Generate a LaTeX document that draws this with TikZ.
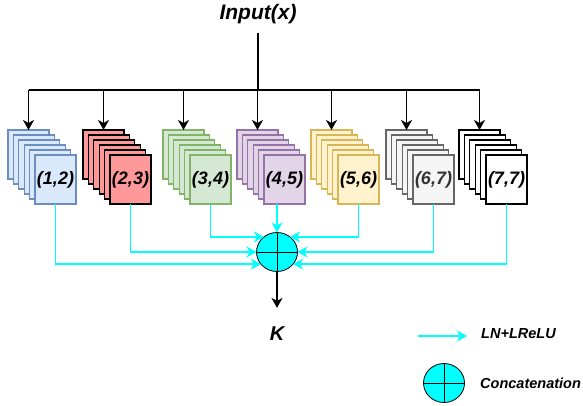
\documentclass[tikz,border=0pt]{standalone}
\usepackage{fontspec}
\setmainfont{Liberation Sans}
\usepackage{tikz}
\usetikzlibrary{positioning,arrows.meta,shapes.geometric}
\definecolor{blueF}{HTML}{DAE8FC}
\definecolor{blueD}{HTML}{6C8EBF}
\definecolor{redF}{HTML}{FF9999}
\definecolor{greenF}{HTML}{D5E8D4}
\definecolor{greenD}{HTML}{82B366}
\definecolor{purpleF}{HTML}{E1D5E7}
\definecolor{purpleD}{HTML}{9673A6}
\definecolor{yellowF}{HTML}{FFF2CC}
\definecolor{yellowD}{HTML}{D6B656}
\definecolor{grayF}{HTML}{F5F5F5}
\definecolor{grayD}{HTML}{666666}
\definecolor{grayT}{HTML}{333333}
\definecolor{catCyan}{HTML}{00FFFF}

\begin{document}
\begin{tikzpicture}[x=1pt, y=-1pt,
    sheet/.style={draw, line width=1.1pt, minimum width=41pt, minimum height=49pt,
                  inner sep=0pt, outer sep=0pt, anchor=north west},
    lbl/.style={font=\bfseries\itshape\fontsize{18}{20}\selectfont},
    feed/.style={line width=1.6pt, -{Stealth[length=10pt,width=11pt,inset=3pt]}},
    link/.style={draw=catCyan, line width=1.8pt,
                 -{Stealth[length=10pt,width=11pt,inset=3pt]}},
    catnode/.style={ellipse, draw, line width=0.8pt, fill=catCyan, minimum width=41pt,
                    minimum height=39pt, inner sep=0pt, outer sep=0pt},
    keytext/.style={anchor=west, inner sep=0pt, font=\bfseries\itshape\fontsize{14.5}{16}\selectfont}
]
    \useasboundingbox (0,0) rectangle (583,406);

    % kernel stacks: back sheet, four middle sheets, front sheet with the size
    \foreach \i/\bx/\fc/\dc/\tc/\txt in {1/8/blueF/blueD/black/{(1,2)},
                                        2/83/redF/black/black/{(2,3)},
                                        3/163/greenF/greenD/black/{(3,4)},
                                        4/237/purpleF/purpleD/black/{(4,5)},
                                        5/311/yellowF/yellowD/black/{(5,6)},
                                        6/386/grayF/grayD/grayT/{(6,7)},
                                        7/459/white/black/black/{(7,7)}}{
        \node[sheet, fill=\fc, draw=\dc] (b\i) at (\bx,130) {};
        \foreach \k in {1,...,4}
            \node[sheet, fill=\fc, draw=\dc] (m\i-\k) at ({\bx+5.4*\k},{130+5*\k}) {};
        \node[sheet, fill=\fc, draw=\dc, lbl, text=\tc] (f\i) at ({\bx+27},155) {\txt};
    }

    % input and its distribution bus
    \node[inner sep=0pt, font=\bfseries\itshape\fontsize{21}{24}\selectfont] (in) at (258,14) {Input(x)};
    \coordinate (bus) at (258,90);
    \draw[line width=1.6pt, shorten <=9pt] (in.south) -- (bus);
    \draw[line width=1.6pt] (bus -| b1.north) -- (bus -| b7.north);
    \foreach \i in {1,...,7}
        \draw[feed] (bus -| b\i.north) -- (b\i.north);

    % concatenation
    \node[catnode] (cat) at (277,252) {};
    \draw[line width=0.8pt] (cat.north) -- (cat.south) (cat.west) -- (cat.east);

    \draw[link] (f1.south) |- (cat.217);
    \draw[link] (f2.south) |- (cat.west);
    \draw[link] (f3.south) |- (cat.131);
    \draw[link] (cat |- f4.south) -- (cat.north);
    \draw[link] (f5.south) |- (cat.49);
    \draw[link] (f6.south) |- (cat.east);
    \draw[link] (f7.south) |- (cat.323);

    \node[inner sep=0pt, font=\bfseries\itshape\fontsize{20}{22}\selectfont] (K) at (277,334) {K};
    \draw[feed, shorten >=19pt] (cat.south) -- (K.north);

    % legend
    \coordinate (keyA) at (418,336);
    \node[keytext] (keyLN) at (481,334) {LN+LReLU};
    \draw[link, shorten >=14pt] (keyA) -- (keyLN.west |- keyA);

    \node[catnode] (keycat) at (444,383) {};
    \draw[line width=0.8pt] (keycat.north) -- (keycat.south) (keycat.west) -- (keycat.east);
    \node[keytext] (keyCat) at (480,383) {Concatenation};
\end{tikzpicture}
\end{document}
